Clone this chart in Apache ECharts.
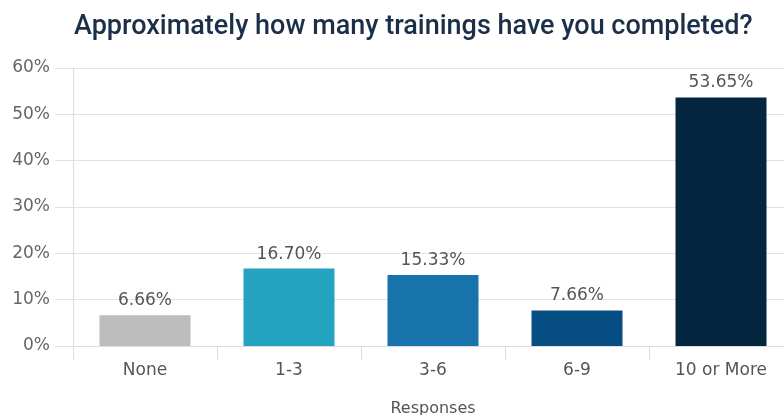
<!DOCTYPE html>
<html>
<head>
<meta charset="utf-8">
<script src="https://cdn.jsdelivr.net/npm/echarts@6/dist/echarts.min.js"></script>
<style>
  html, body { margin: 0; padding: 0; background: #ffffff; }
  #chart { width: 784px; height: 415px; }
</style>
</head>
<body>
<div id="chart"></div>
<script>
// Survey responses: number of trainings completed
const categories = ['None', '1-3', '3-6', '6-9', '10 or More'];
const shares = [6.66, 16.70, 15.33, 7.66, 53.65];
const barColors = ['#bdbdbd', '#24a3c0', '#1873ad', '#064d84', '#05263f'];
const yTicks = { min: 0, max: 60, interval: 10 };

const chart = echarts.init(document.getElementById('chart'));
const labelFont = '"DejaVu Sans", sans-serif';

chart.setOption({
  animation: false,
  title: {
    text: 'Approximately how many trainings have you completed?',
    left: 69,
    top: 9,
    textStyle: {
      fontFamily: 'Roboto, "Open Sans", sans-serif',
      fontSize: 27,
      fontWeight: 500,
      color: '#1c2f48'
    }
  },
  // the last category runs past the right edge of the canvas
  grid: { left: 73, width: 720, top: 68, height: 278, outerBoundsMode: 'none', containLabel: false },
  xAxis: {
    type: 'category',
    data: categories,
    name: 'Responses',
    nameLocation: 'middle',
    nameGap: 55,
    nameTextStyle: { fontFamily: labelFont, fontSize: 16, color: '#555' },
    axisLine: { lineStyle: { color: '#dcdcdc', width: 1 } },
    axisTick: { show: true, length: 14, lineStyle: { color: '#dcdcdc' } },
    axisLabel: { fontFamily: labelFont, fontSize: 17, color: '#555', margin: 16 }
  },
  yAxis: {
    type: 'value',
    min: yTicks.min,
    max: yTicks.max,
    interval: yTicks.interval,
    axisLine: { show: true, lineStyle: { color: '#dcdcdc' } },
    axisTick: { show: true, length: 18, lineStyle: { color: '#e3e3e3' } },
    axisLabel: {
      formatter: '{value}%',
      fontFamily: labelFont,
      fontSize: 17,
      color: '#666',
      margin: 23
    },
    splitLine: { lineStyle: { color: '#e3e3e3', width: 1 } }
  },
  series: [{
    type: 'bar',
    barWidth: 91,
    data: shares.map((v, i) => ({ value: v, itemStyle: { color: barColors[i] } })),
    label: {
      show: true,
      position: 'top',
      distance: 6,
      formatter: p => p.value.toFixed(2) + '%',
      fontFamily: labelFont,
      fontSize: 17,
      color: '#555'
    }
  }]
});
</script>
</body>
</html>
